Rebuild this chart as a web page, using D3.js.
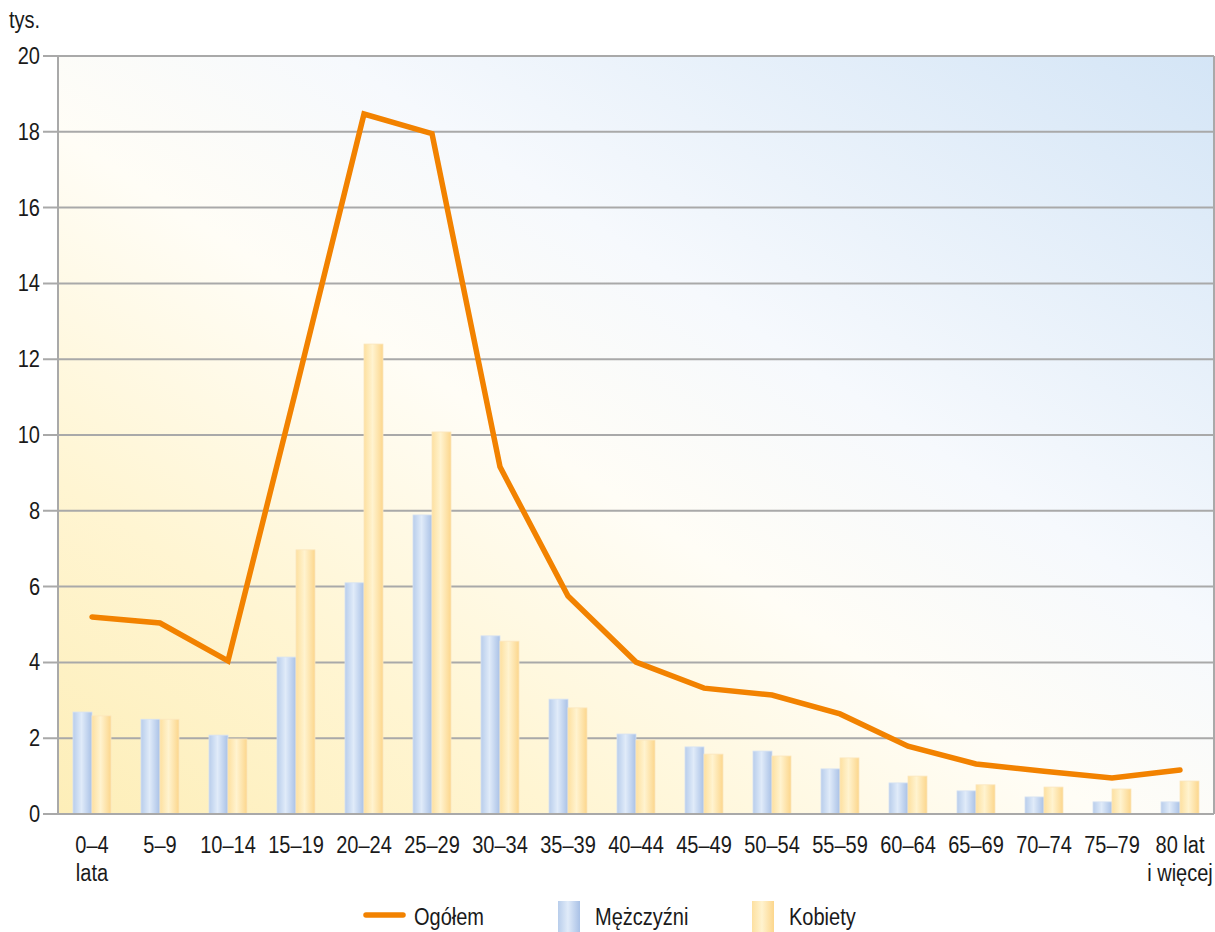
<!DOCTYPE html>
<html>
<head>
<meta charset="utf-8">
<script src="https://cdn.jsdelivr.net/npm/d3@7/dist/d3.min.js"></script>
<style>
  html, body { margin: 0; padding: 0; background: #fff; }
  svg { display: block; }
  text { font-family: "Liberation Sans", Arial, sans-serif; fill: #1a1a1a; }
</style>
</head>
<body>
<svg id="chart" width="1215" height="932"></svg>
<script>
// Age groups (two-line labels split on "\n")
const categories = ["0–4\nlata", "5–9", "10–14", "15–19", "20–24", "25–29", "30–34", "35–39",
  "40–44", "45–49", "50–54", "55–59", "60–64", "65–69", "70–74", "75–79", "80 lat\ni więcej"];

// Values in thousands
const men   = [2.69, 2.50, 2.08, 4.14, 6.10, 7.89, 4.70, 3.03, 2.11, 1.77, 1.66, 1.19, 0.82, 0.61, 0.45, 0.32, 0.32];
const women = [2.59, 2.50, 1.98, 6.97, 12.40, 10.08, 4.56, 2.80, 1.95, 1.58, 1.53, 1.48, 1.00, 0.77, 0.71, 0.66, 0.87];
const total = [5.20, 5.04, 4.04, 11.20, 18.47, 17.95, 9.16, 5.75, 4.01, 3.32, 3.14, 2.64, 1.79, 1.32, 1.13, 0.95, 1.16];

const yTicks = [0, 2, 4, 6, 8, 10, 12, 14, 16, 18, 20];
const legendLabels = ["Ogółem", "Mężczyźni", "Kobiety"];

const svg = d3.select("#chart");
const plot = { left: 58, right: 1214, top: 56, bottom: 814 };

const x = d3.scaleBand().domain(categories).range([plot.left, plot.right]).padding(0);
const y = d3.scaleLinear().domain([0, 20]).range([plot.bottom, plot.top]);
const barW = 19;
const FS = 23;        // font size
const SQUEEZE = 0.87; // narrow-face look

// Text helper: condensed text placed at (tx, ty)
function label(parent, tx, ty, str, anchor) {
  return parent.append("text")
    .attr("transform", `translate(${tx},${ty}) scale(${SQUEEZE},1)`)
    .attr("text-anchor", anchor || "start")
    .attr("font-size", FS)
    .text(str);
}

const defs = svg.append("defs");

// Background: warm yellow bottom-left fading through white to pale blue top-right
const bg = defs.append("linearGradient").attr("id", "bg")
  .attr("x1", 0).attr("y1", 1).attr("x2", 1).attr("y2", 0);
[[0, "#fdeeb8"], [0.22, "#fff5d2"], [0.45, "#fffdf6"], [0.62, "#f6f9fd"], [1, "#d4e5f6"]]
  .forEach(([o, c]) => bg.append("stop").attr("offset", o).attr("stop-color", c));

// Cylindrical bar shading
function barGradient(id, stops) {
  const g = defs.append("linearGradient").attr("id", id).attr("x1", 0).attr("x2", 1).attr("y1", 0).attr("y2", 0);
  stops.forEach(([o, c]) => g.append("stop").attr("offset", o).attr("stop-color", c));
}
barGradient("gMen", [[0, "#b8cdeb"], [0.45, "#e0ebf9"], [1, "#a9c1e6"]]);
barGradient("gWomen", [[0, "#fde0a0"], [0.45, "#fff3cf"], [1, "#fcd68c"]]);

svg.append("rect")
  .attr("x", plot.left).attr("y", plot.top)
  .attr("width", plot.right - plot.left).attr("height", plot.bottom - plot.top)
  .attr("fill", "url(#bg)");

// Horizontal grid lines with short ticks on the left
const grid = svg.append("g");
yTicks.forEach(t => {
  grid.append("line")
    .attr("x1", 43).attr("x2", plot.right)
    .attr("y1", y(t)).attr("y2", y(t))
    .attr("stroke", "#a9a9a9").attr("stroke-width", 2);
});

// Left and right frame
svg.append("line").attr("x1", plot.left).attr("x2", plot.left)
  .attr("y1", plot.top).attr("y2", plot.bottom)
  .attr("stroke", "#a9a9a9").attr("stroke-width", 2);
svg.append("line").attr("x1", plot.right).attr("x2", plot.right)
  .attr("y1", plot.top).attr("y2", plot.bottom)
  .attr("stroke", "#a9a9a9").attr("stroke-width", 2);

// Y axis labels
const yl = svg.append("g");
yTicks.forEach(t => label(yl, 40, y(t) + 8, t, "end"));

label(svg, 9, 28, "tys.");

// Bars
const bars = svg.append("g");
bars.selectAll("rect.men").data(men).join("rect").attr("class", "men")
  .attr("x", (d, i) => x(categories[i]) + x.bandwidth() / 2 - barW)
  .attr("y", d => y(d)).attr("width", barW).attr("height", d => y(0) - y(d))
  .attr("fill", "url(#gMen)").attr("stroke", "#d6e2f2").attr("stroke-width", 0.8);
bars.selectAll("rect.women").data(women).join("rect").attr("class", "women")
  .attr("x", (d, i) => x(categories[i]) + x.bandwidth() / 2)
  .attr("y", d => y(d)).attr("width", barW).attr("height", d => y(0) - y(d))
  .attr("fill", "url(#gWomen)").attr("stroke", "#fbe6bd").attr("stroke-width", 0.8);

// Redraw the baseline over the bars
svg.append("line").attr("x1", 43).attr("x2", plot.right)
  .attr("y1", y(0)).attr("y2", y(0))
  .attr("stroke", "#a9a9a9").attr("stroke-width", 2);

// Total line
const line = d3.line()
  .x((d, i) => x(categories[i]) + x.bandwidth() / 2)
  .y(d => y(d));
svg.append("path").datum(total)
  .attr("d", line)
  .attr("fill", "none").attr("stroke", "#f28200")
  .attr("stroke-width", 5.5).attr("stroke-linejoin", "miter").attr("stroke-linecap", "round");

// X labels
const xl = svg.append("g");
categories.forEach(c => {
  const cx = x(c) + x.bandwidth() / 2;
  c.split("\n").forEach((s, k) => label(xl, cx, 853 + k * 28, s, "middle"));
});

// Legend
const lg = svg.append("g");
lg.append("line").attr("x1", 366).attr("x2", 403).attr("y1", 915).attr("y2", 915)
  .attr("stroke", "#f28200").attr("stroke-width", 5.5).attr("stroke-linecap", "round");
label(lg, 414, 925, legendLabels[0]);
lg.append("rect").attr("x", 558).attr("y", 901).attr("width", 22).attr("height", 32)
  .attr("fill", "url(#gMen)");
label(lg, 595, 925, legendLabels[1]);
lg.append("rect").attr("x", 752).attr("y", 901).attr("width", 22).attr("height", 32)
  .attr("fill", "url(#gWomen)");
label(lg, 789, 925, legendLabels[2]);
</script>
</body>
</html>
